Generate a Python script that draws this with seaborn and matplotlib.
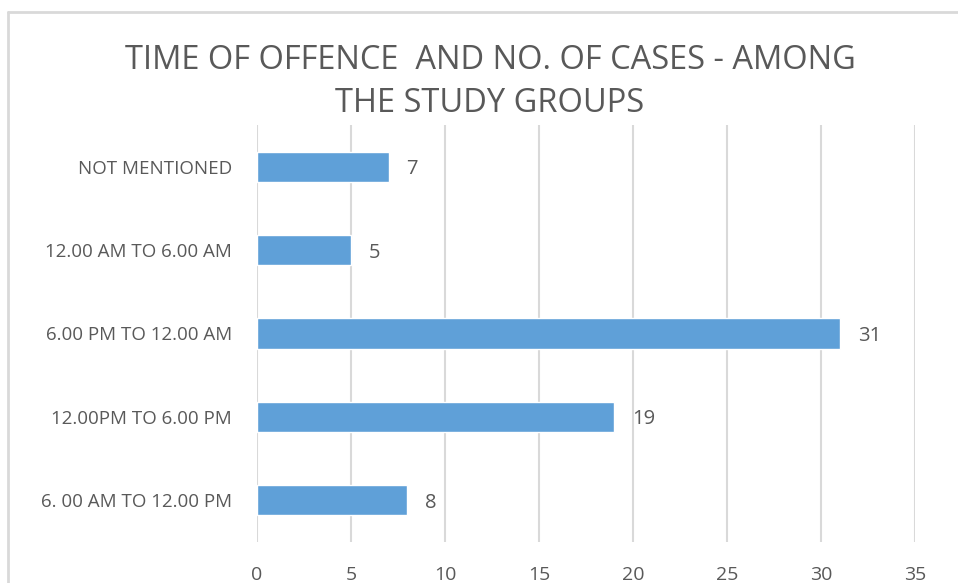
import matplotlib
matplotlib.use('Agg')
import matplotlib.pyplot as plt
import matplotlib.lines as mlines
import seaborn as sns
import pandas as pd

categories = ["NOT MENTIONED", "12.00 AM TO 6.00 AM", "6.00 PM TO 12.00 AM",
              "12.00PM TO 6.00 PM", "6. 00 AM TO 12.00 PM"]
cases = [7, 5, 31, 19, 8]
x_ticks = [0, 5, 10, 15, 20, 25, 30, 35]
title = "TIME OF OFFENCE  AND NO. OF CASES - AMONG\nTHE STUDY GROUPS"

df = pd.DataFrame({"time": categories, "cases": cases})

sns.set_style("white")
plt.rcParams['font.family'] = ['Open Sans', 'DejaVu Sans']

text_col = "#595959"
bar_col = "#5FA0D8"
grid_col = "#D9D9D9"

fig = plt.figure(figsize=(9.58, 5.83), dpi=100)
ax = fig.add_axes([257 / 958, 41 / 583, 658 / 958, 417 / 583])

sns.barplot(data=df, x="cases", y="time", order=categories, orient='h',
            color=bar_col, saturation=1, width=0.36, ax=ax)

ax.set_xlim(0, 35)
ax.set_ylim(4.5, -0.5)
ax.set_xticks(x_ticks)
ax.xaxis.grid(True, color=grid_col, lw=1.5)
ax.set_axisbelow(True)
for s in ax.spines.values():
    s.set_visible(False)
ax.set_xlabel("")
ax.set_ylabel("")
ax.tick_params(axis='x', length=0, pad=17, labelsize=14, labelcolor=text_col)
ax.tick_params(axis='y', length=0, pad=18, labelsize=13.5, labelcolor=text_col)

for i, v in enumerate(cases):
    ax.text(v + 0.95, i, str(v), va='center_baseline', ha='left', fontsize=14.5, color=text_col)

fig.text(490 / 958, 1 - 82 / 583, title, ha='center', va='center',
         fontsize=23.5, color=text_col, linespacing=1.4)

# chart border (top and left visible)
fig.add_artist(mlines.Line2D([8 / 958, 1], [1 - 12 / 583, 1 - 12 / 583],
                             color=grid_col, lw=2, transform=fig.transFigure))
fig.add_artist(mlines.Line2D([8 / 958, 8 / 958], [0, 1 - 12 / 583],
                             color=grid_col, lw=2, transform=fig.transFigure))

plt.savefig("out.png", dpi=100)
plt.close()
